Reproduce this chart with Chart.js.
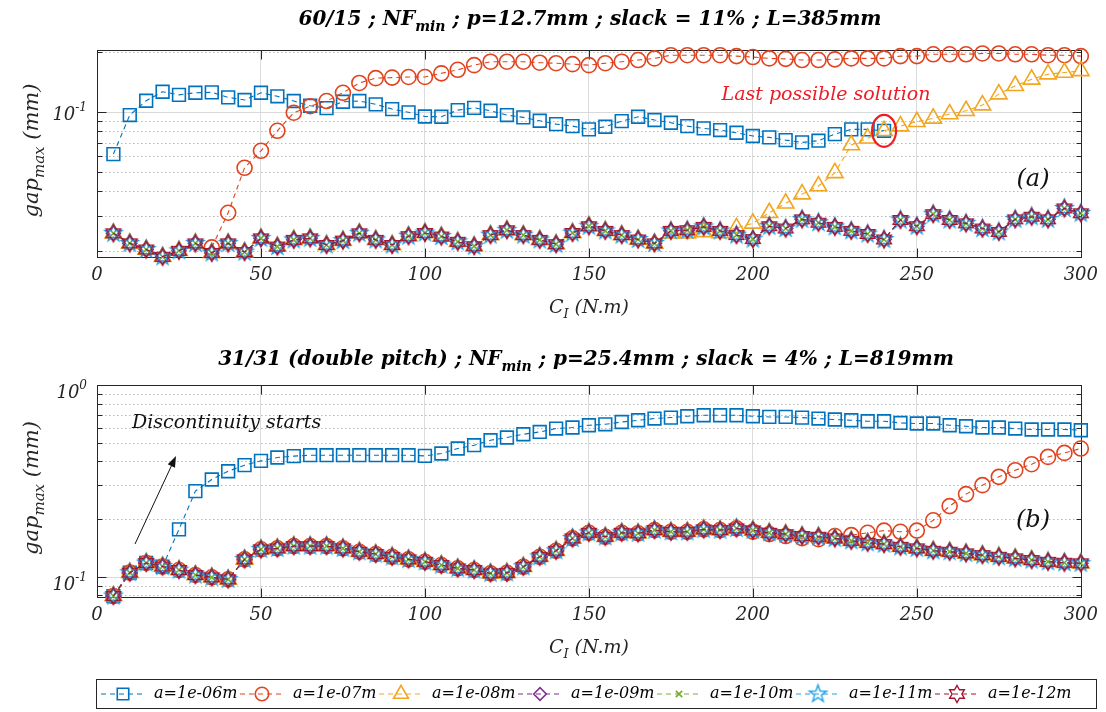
<!DOCTYPE html>
<html>
<head>
<meta charset="utf-8">
<script src="https://cdn.jsdelivr.net/npm/chart.js@4.4.1/dist/chart.umd.min.js"></script>
<style>
  html, body { margin: 0; padding: 0; background: #fff; }
  #wrap { position: relative; width: 1106px; height: 712px; overflow: hidden; }
  #wrap canvas { position: absolute; left: 0; }
</style>
</head>
<body>
<div id="wrap">
  <canvas id="chartA" width="1106" height="340" style="top:0"></canvas>
  <canvas id="chartB" width="1106" height="372" style="top:340px"></canvas>
</div>
<script>
// abscisse : couple C_I (N.m)
const cValues = [5,10,15,20,25,30,35,40,45,50,55,60,65,70,75,80,85,90,95,100,
  105,110,115,120,125,130,135,140,145,150,155,160,165,170,175,180,185,190,195,200,
  205,210,215,220,225,230,235,240,245,250,255,260,265,270,275,280,285,290,295,300];
const xTicks = [0, 50, 100, 150, 200, 250, 300];

// (a) 60/15
const topBlue = [0.0615,0.0966,0.114,0.1265,0.122,0.125,0.1256,0.1185,0.115,0.125,
  0.120,0.1136,0.1076,0.1047,0.1127,0.1136,0.1093,0.1035,0.0997,0.095,
  0.0947,0.1023,0.105,0.1015,0.0966,0.094,0.0904,0.087,0.085,0.0818,
  0.0844,0.090,0.0947,0.0912,0.0884,0.085,0.0828,0.0812,0.0787,0.0758,
  0.0746,0.0723,0.0704,0.0718,0.0775,0.0818,0.0818,0.0805,null,null,
  null,null,null,null,null,null,null,null,null,null];
const topRed = [null,null,null,null,null,null,0.0209,0.0312,0.0525,0.0639,
  0.0805,0.0992,0.107,0.1136,0.125,0.140,0.148,0.149,0.150,0.150,
  0.1565,0.163,0.172,0.179,0.179,0.179,0.177,0.176,0.174,0.172,
  0.176,0.179,0.1825,0.186,0.193,0.193,0.193,0.193,0.191,0.189,
  0.186,0.185,0.1825,0.1825,0.184,0.186,0.186,0.186,0.191,0.191,
  0.195,0.195,0.195,0.197,0.197,0.195,0.195,0.193,0.193,0.191];
const topYellow = [0.0246,0.0219,0.0204,0.01875,0.0201,0.0219,0.0196,0.0219,0.0198,0.0232,
  0.0211,0.0228,0.0232,0.0215,0.0226,0.0246,0.0228,0.0215,0.0238,0.0247,
  0.0237,0.0223,0.0212,0.0241,0.0255,0.0241,0.0228,0.0217,0.0247,0.0267,
  0.0253,0.0241,0.0229,0.0219,0.0246,0.0246,0.0250,0.0247,0.0262,0.0276,
  0.0312,0.0348,0.0387,0.0425,0.0495,0.0683,0.0738,0.0805,0.085,0.0894,
  0.0929,0.0977,0.1015,0.1084,0.123,0.1356,0.146,0.155,0.158,0.161];
// a = 1e-09 ... 1e-12 : courbes confondues
const topSmall = [0.0246,0.0219,0.0204,0.01875,0.0201,0.0219,0.0196,0.0219,0.0198,0.0232,
  0.0211,0.0228,0.0232,0.0215,0.0226,0.0246,0.0228,0.0215,0.0238,0.0247,
  0.0237,0.0223,0.0212,0.0241,0.0255,0.0241,0.0228,0.0217,0.0247,0.0267,
  0.0253,0.0241,0.0229,0.0219,0.0253,0.0255,0.0265,0.0253,0.0241,0.0230,
  0.0267,0.0260,0.0289,0.0278,0.0265,0.0253,0.0244,0.0229,0.0287,0.0267,
  0.0307,0.0287,0.0276,0.0260,0.0250,0.0289,0.0298,0.0289,0.0328,0.0310];
const topYTicks = [0.02,0.03,0.04,0.05,0.06,0.07,0.08,0.09,0.1,0.2];

// (b) 31/31 double pitch
const botBlue = [0.0793,0.105,0.118,0.113,0.1766,0.2795,0.3216,0.3551,0.3819,0.4019,
  0.4186,0.4254,0.4304,0.4304,0.4304,0.4304,0.4304,0.4304,0.4304,0.4268,
  0.4393,0.4664,0.4853,0.5152,0.5322,0.5536,0.5691,0.5928,0.6003,0.6166,
  0.6238,0.6415,0.6548,0.6683,0.6763,0.6871,0.6953,0.6953,0.6953,0.6871,
  0.6815,0.6815,0.6763,0.6683,0.6605,0.6548,0.6472,0.6472,0.634,0.6296,
  0.6296,0.6166,0.6095,0.6003,0.6003,0.5928,0.586,0.586,0.586,0.581];
const botRed = [0.0793,0.105,0.118,0.113,0.1084,0.1021,0.0993,0.0969,0.1232,0.139,
  0.1406,0.1445,0.1445,0.1445,0.1406,0.135,0.1313,0.1271,0.1232,0.1197,
  0.1151,0.1106,0.1084,0.1042,0.1048,0.1127,0.1271,0.1366,0.1585,0.1695,
  0.1616,0.1695,0.1685,0.1751,0.1716,0.1716,0.1766,0.1751,0.1787,0.172,
  0.167,0.163,0.159,0.157,0.163,0.1648,0.1695,0.174,0.1716,0.174,
  0.197,0.2335,0.2697,0.3003,0.3318,0.3595,0.3864,0.4217,0.4425,0.4664];
const botSmall = [0.0793,0.105,0.118,0.113,0.1084,0.1021,0.0993,0.0969,0.1232,0.139,
  0.1406,0.1445,0.1445,0.1445,0.1406,0.135,0.1313,0.1271,0.1232,0.1197,
  0.1151,0.1106,0.1084,0.1042,0.1048,0.1127,0.1271,0.1366,0.1585,0.1695,
  0.1616,0.1695,0.1685,0.1751,0.1716,0.1716,0.1766,0.1751,0.1787,0.1745,
  0.1695,0.1668,0.163,0.1616,0.1585,0.154,0.1503,0.148,0.1433,0.1406,
  0.1366,0.135,0.1324,0.1297,0.1271,0.1247,0.1222,0.1197,0.1183,0.1175];
const botYTicks = [0.08,0.09,0.1,0.2,0.3,0.4,0.5,0.6,0.7,0.8,0.9,1];

const seriesLabels = ['a=1e-06m','a=1e-07m','a=1e-08m','a=1e-09m','a=1e-10m','a=1e-11m','a=1e-12m'];
const seriesColors = ['#0072BD','#E2431E','#F2A51E','#7E2F8E','#77AC30','#1EA0E8','#A2142F'];

const SERIF = '"DejaVu Serif", "Liberation Serif", serif';
const INK = '#262626';

// marqueurs étoile (pentagram / hexagram)
function starMarker(n, rOut, rIn, color, lw) {
  const s = Math.ceil(2 * rOut + 2 * lw + 2);
  const c = document.createElement('canvas');
  c.width = s; c.height = s;
  const g = c.getContext('2d');
  g.translate(s / 2, s / 2);
  g.beginPath();
  for (let k = 0; k < 2 * n; k++) {
    const r = k % 2 ? rIn : rOut;
    const a = -Math.PI / 2 + k * Math.PI / n;
    if (k === 0) g.moveTo(r * Math.cos(a), r * Math.sin(a));
    else g.lineTo(r * Math.cos(a), r * Math.sin(a));
  }
  g.closePath();
  g.strokeStyle = color;
  g.lineWidth = lw;
  g.stroke();
  return c;
}

const pointStyles = ['rect', 'circle', 'triangle', 'rectRot', 'crossRot',
  starMarker(5, 9, 3.6, seriesColors[5], 1.4), starMarker(6, 8.5, 4.9, seriesColors[6], 1.4)];
const pointRadii = [9, 7.5, 9.5, 7, 5, 8, 8];

function buildDatasets(seriesY) {
  return seriesY.map((ys, i) => ({
    label: seriesLabels[i],
    data: cValues.map((c, k) => ({ x: c, y: ys[k] })),
    borderColor: seriesColors[i],
    borderWidth: 1.1,
    borderDash: [5, 4],
    pointStyle: pointStyles[i],
    pointRadius: pointRadii[i],
    pointHoverRadius: pointRadii[i],
    pointBorderColor: seriesColors[i],
    pointBackgroundColor: 'rgba(0,0,0,0)',
    pointBorderWidth: 1.6,
    fill: false,
    tension: 0,
    clip: false,
    order: seriesY.length - i
  }));
}

function richText(ctx, parts, x, y, align) {
  let w = 0;
  parts.forEach(p => { ctx.font = p[1]; w += ctx.measureText(p[0]).width; });
  let cx = align === 'center' ? x - w / 2 : (align === 'right' ? x - w : x);
  ctx.textAlign = 'left';
  ctx.textBaseline = 'alphabetic';
  parts.forEach(p => {
    ctx.font = p[1];
    ctx.fillText(p[0], cx, y + (p[2] || 0));
    cx += ctx.measureText(p[0]).width;
  });
}

const isDecade = v => Math.abs(Math.log10(v) - Math.round(Math.log10(v))) < 1e-9;

function makeDecor(cfg) {
  return {
    id: 'decor' + cfg.id,
    beforeDatasetsDraw(chart) {
      const { ctx, chartArea: a, scales: { x, y } } = chart;
      ctx.save();
      ctx.lineWidth = 1;
      cfg.yTicks.forEach(v => {
        const py = Math.round(y.getPixelForValue(v)) + 0.5;
        if (py < a.top + 1 || py > a.bottom - 1) return;
        ctx.beginPath();
        ctx.setLineDash(isDecade(v) ? [] : [1.5, 2.5]);
        ctx.strokeStyle = isDecade(v) ? '#d9d9d9' : '#b8b8b8';
        ctx.moveTo(a.left, py); ctx.lineTo(a.right, py);
        ctx.stroke();
      });
      ctx.setLineDash([]);
      // cadre + graduations vers l'intérieur
      ctx.strokeStyle = INK;
      const L = Math.round(a.left) + 0.5, R = Math.round(a.right) + 0.5;
      const T = Math.round(a.top) + 0.5, B = Math.round(a.bottom) + 0.5;
      ctx.strokeRect(L, T, R - L, B - T);
      ctx.beginPath();
      xTicks.forEach(v => {
        const px = Math.round(x.getPixelForValue(v)) + 0.5;
        ctx.moveTo(px, B); ctx.lineTo(px, B - 9);
        ctx.moveTo(px, T); ctx.lineTo(px, T + 9);
      });
      cfg.yTicks.forEach(v => {
        const py = Math.round(y.getPixelForValue(v)) + 0.5;
        const len = isDecade(v) ? 9 : 5;
        ctx.moveTo(L, py); ctx.lineTo(L + len, py);
        ctx.moveTo(R, py); ctx.lineTo(R - len, py);
      });
      ctx.stroke();
      ctx.restore();
    },
    afterDraw(chart) {
      const { ctx, chartArea: a, scales: { x, y } } = chart;
      ctx.save();
      ctx.fillStyle = INK;
      // étiquettes 10^n
      cfg.yLabels.forEach(v => {
        const py = y.getPixelForValue(v) + cfg.labelShift;
        const ex = String(Math.round(Math.log10(v)));
        ctx.font = 'italic 12px ' + SERIF;
        const ew = ctx.measureText(ex).width;
        ctx.textAlign = 'left'; ctx.textBaseline = 'alphabetic';
        ctx.fillText(ex, 87 - ew, py - 1);
        ctx.font = 'italic 18px ' + SERIF;
        ctx.textAlign = 'right';
        ctx.fillText('10', 87 - ew, py + 8);
      });
      // titre
      ctx.fillStyle = '#000';
      const TF = 'bold italic 20px ' + SERIF, TS = 'bold italic 14px ' + SERIF;
      richText(ctx, [[cfg.title[0], TF], ['min', TS, 6], [cfg.title[1], TF]], cfg.titleX, 25, 'center');
      // titres d'axes
      ctx.fillStyle = INK;
      const AF = 'italic 19px ' + SERIF, AS = 'italic 13px ' + SERIF;
      richText(ctx, [['C', AF], ['I', AS, 5], [' (N.m)', AF]], (a.left + a.right) / 2, a.bottom + 56, 'center');
      ctx.save();
      ctx.translate(38, (a.top + a.bottom) / 2 - 3);
      ctx.rotate(-Math.PI / 2);
      richText(ctx, [['gap', 'italic 21px ' + SERIF], ['max', 'italic 15px ' + SERIF, 6], [' (mm)', 'italic 21px ' + SERIF]], 0, 0, 'center');
      ctx.restore();
      // lettre du sous-graphe
      ctx.fillStyle = '#111';
      ctx.font = 'italic 24px ' + SERIF;
      ctx.textAlign = 'center';
      ctx.fillText(cfg.letter, 1033, cfg.letterY);
      if (cfg.extra) cfg.extra(chart, ctx, a, x, y);
      ctx.restore();
    }
  };
}

function drawLegend(ctx) {
  const top = 339.5, h = 29, cy = 354;
  ctx.strokeStyle = INK;
  ctx.lineWidth = 1;
  ctx.setLineDash([]);
  ctx.strokeRect(96.5, top, 1000, h);
  const starts = [101, 240, 379, 518, 657, 796, 935];
  seriesLabels.forEach((lab, i) => {
    const sx = starts[i];
    ctx.strokeStyle = seriesColors[i];
    ctx.lineWidth = 1.1;
    ctx.setLineDash([5, 4]);
    ctx.beginPath(); ctx.moveTo(sx, cy); ctx.lineTo(sx + 44, cy); ctx.stroke();
    ctx.setLineDash([]);
    ctx.lineWidth = 1.6;
    ctx.fillStyle = 'rgba(0,0,0,0)';
    Chart.helpers.drawPoint(ctx, { pointStyle: pointStyles[i], rotation: 0, radius: pointRadii[i] * 0.9, borderWidth: 1.6 }, sx + 22, cy);
    ctx.fillStyle = '#000';
    ctx.font = 'italic 16px ' + SERIF;
    ctx.textAlign = 'left'; ctx.textBaseline = 'middle';
    ctx.fillText(lab, sx + 53, cy);
  });
}

function makeChart(id, cfg) {
  return new Chart(document.getElementById(id), {
    type: 'line',
    data: { datasets: buildDatasets(cfg.series) },
    options: {
      responsive: false,
      animation: false,
      events: [],
      layout: { padding: { top: cfg.top, right: 25, left: 0, bottom: 0 } },
      plugins: { legend: { display: false }, tooltip: { enabled: false } },
      scales: {
        x: {
          type: 'linear', min: 0, max: 300,
          afterBuildTicks: s => { s.ticks = xTicks.map(v => ({ value: v })); },
          ticks: { font: { family: SERIF, style: 'italic', size: 18 }, color: INK, padding: 8, maxRotation: 0 },
          grid: { color: c => (c.tick && (c.tick.value === 0 || c.tick.value === 300)) ? 'rgba(0,0,0,0)' : '#dcdcdc', drawTicks: false },
          border: { display: false },
          afterFit: s => { s.height = cfg.xAxisH; }
        },
        y: {
          type: 'logarithmic', min: cfg.yMin, max: cfg.yMax,
          afterBuildTicks: s => { s.ticks = cfg.yTicks.map(v => ({ value: v })); },
          ticks: { display: false },
          grid: { display: false },
          border: { display: false },
          afterFit: s => { s.width = 97; }
        }
      }
    },
    plugins: [makeDecor(cfg)]
  });
}

makeChart('chartA', {
  id: 'A', top: 50, xAxisH: 83,
  series: [topBlue, topRed, topYellow, topSmall, topSmall, topSmall, topSmall],
  yMin: 0.0187, yMax: 0.205, yTicks: topYTicks, yLabels: [0.1], labelShift: 0,
  title: ['60/15 ; NF', ' ; p=12.7mm ; slack = 11% ; L=385mm'], titleX: 590,
  letter: '(a)', letterY: 186,
  extra: (chart, ctx, a, x, y) => {
    ctx.fillStyle = '#EE1C25';
    ctx.font = 'italic 19px ' + SERIF;
    ctx.textAlign = 'center';
    ctx.fillText('Last possible solution', 826, 100);
    ctx.strokeStyle = '#EE1C25';
    ctx.lineWidth = 2.2;
    ctx.beginPath();
    ctx.ellipse(x.getPixelForValue(240), y.getPixelForValue(0.0805), 12, 16, 0, 0, Math.PI * 2);
    ctx.stroke();
  }
});

makeChart('chartB', {
  id: 'B', top: 45, xAxisH: 115,
  series: [botBlue, botRed, botSmall, botSmall, botSmall, botSmall, botSmall],
  yMin: 0.0784, yMax: 1.0, yTicks: botYTicks, yLabels: [0.1, 1], labelShift: 5,
  title: ['31/31 (double pitch) ; NF', ' ; p=25.4mm ; slack = 4% ; L=819mm'], titleX: 586,
  letter: '(b)', letterY: 187,
  extra: (chart, ctx) => {
    ctx.fillStyle = '#111';
    ctx.font = 'italic 19px ' + SERIF;
    ctx.textAlign = 'left';
    ctx.fillText('Discontinuity starts', 132, 88);
    // flèche
    const x0 = 135, y0 = 204, x1 = 176, y1 = 116;
    const ang = Math.atan2(y1 - y0, x1 - x0);
    ctx.strokeStyle = '#111';
    ctx.lineWidth = 1;
    ctx.beginPath(); ctx.moveTo(x0, y0); ctx.lineTo(x1 - 8 * Math.cos(ang), y1 - 8 * Math.sin(ang)); ctx.stroke();
    ctx.beginPath();
    ctx.moveTo(x1, y1);
    ctx.lineTo(x1 - 11 * Math.cos(ang) + 4 * Math.sin(ang), y1 - 11 * Math.sin(ang) - 4 * Math.cos(ang));
    ctx.lineTo(x1 - 11 * Math.cos(ang) - 4 * Math.sin(ang), y1 - 11 * Math.sin(ang) + 4 * Math.cos(ang));
    ctx.closePath();
    ctx.fill();
    drawLegend(ctx);
  }
});
</script>
</body>
</html>
